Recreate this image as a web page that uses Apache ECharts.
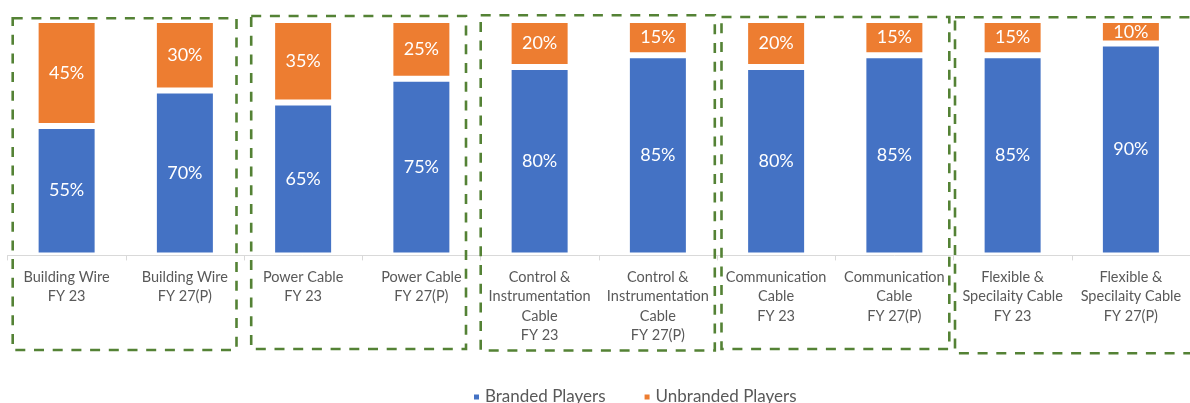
<!DOCTYPE html>
<html>
<head>
<meta charset="utf-8">
<script src="https://cdn.jsdelivr.net/npm/echarts@6/dist/echarts.min.js"></script>
<style>
html,body{margin:0;padding:0;background:#fff;}
#chart{width:1190px;height:403px;}
</style>
</head>
<body>
<div id="chart"></div>
<script>
// ---- data ----
const categories = [
  'Building Wire\nFY 23', 'Building Wire\nFY 27(P)',
  'Power Cable\nFY 23', 'Power Cable\nFY 27(P)',
  'Control &\nInstrumentation\nCable\nFY 23', 'Control &\nInstrumentation\nCable\nFY 27(P)',
  'Communication\nCable\nFY 23', 'Communication\nCable\nFY 27(P)',
  'Flexible &\nSpecilaity Cable\nFY 23', 'Flexible &\nSpecilaity Cable\nFY 27(P)'
];
const brandedPlayers = [55, 70, 65, 75, 80, 85, 80, 85, 85, 90];
const unbrandedPlayers = [45, 30, 35, 25, 20, 15, 20, 15, 15, 10];
const seriesNames = ['Branded Players', 'Unbranded Players'];

// ---- decorative dashed group boxes: [first category index, last category index, left inset, right inset, top, bottom]
const groupBoxes = [
  [0, 1, 5.2, 7.5, 18.3, 350],
  [2, 3, 7.2, 14.5, 16, 349],
  [4, 5, 0.2, 2.2, 15.3, 350.5],
  [6, 7, 4.5, 4.2, 17, 349],
  [8, 9, 1.5, -6, 17.3, 353.3]
];

const chart = echarts.init(document.getElementById('chart'), null, {renderer: 'canvas'});
const FONT = 'Lato, "Open Sans", sans-serif';
const option = {
  animation: false,
  backgroundColor: '#ffffff',
  textStyle: {fontFamily: FONT},
  grid: {left: 7.5, right: -7.5, top: 20, bottom: 147.6, containLabel: false},
  legend: {
    data: seriesNames,
    left: 467, top: 382,
    icon: 'rect', itemWidth: 7, itemHeight: 7, itemGap: 37,
    textStyle: {fontFamily: FONT, fontSize: 17, color: '#595959', lineHeight: 20}
  },
  xAxis: {
    type: 'category',
    data: categories,
    z: 5,
    axisLine: {lineStyle: {color: '#D9D9D9', width: 1}},
    axisTick: {show: true, length: 5, lineStyle: {color: '#D9D9D9'}},
    axisLabel: {interval: 0, margin: 12, color: '#595959', fontFamily: FONT, fontSize: 14.5, lineHeight: 19.5}
  },
  yAxis: {type: 'value', min: 0, max: 100, show: false, splitLine: {show: false}},
  series: [
    {
      name: seriesNames[0], type: 'bar', stack: 'total', data: brandedPlayers, barWidth: 62,
      itemStyle: {color: '#4472C4', borderColor: '#ffffff', borderWidth: 3},
      label: {show: true, position: 'inside', color: '#ffffff', fontFamily: FONT, fontSize: 18, formatter: '{c}%'}
    },
    {
      name: seriesNames[1], type: 'bar', stack: 'total', data: unbrandedPlayers, barWidth: 62,
      itemStyle: {color: '#ED7D31', borderColor: '#ffffff', borderWidth: 3},
      label: {show: true, position: 'inside', color: '#ffffff', fontFamily: FONT, fontSize: 18, formatter: '{c}%'}
    }
  ]
};
chart.setOption(option);

// build boxes from category boundaries
const c0 = chart.convertToPixel({xAxisIndex: 0}, 0);
const c1 = chart.convertToPixel({xAxisIndex: 0}, 1);
const step = c1 - c0;
const graphics = groupBoxes.map(function (b) {
  const left = c0 + (b[0] - 0.5) * step + b[2];
  const right = c0 + (b[1] + 0.5) * step - b[3];
  return {
    type: 'rect', z: 100, silent: true,
    shape: {x: left, y: b[4], width: right - left, height: b[5] - b[4]},
    style: {fill: null, stroke: '#548235', lineWidth: 2.6, lineDash: [10, 8.7]}
  };
});
chart.setOption({graphic: graphics});
</script>
</body>
</html>
